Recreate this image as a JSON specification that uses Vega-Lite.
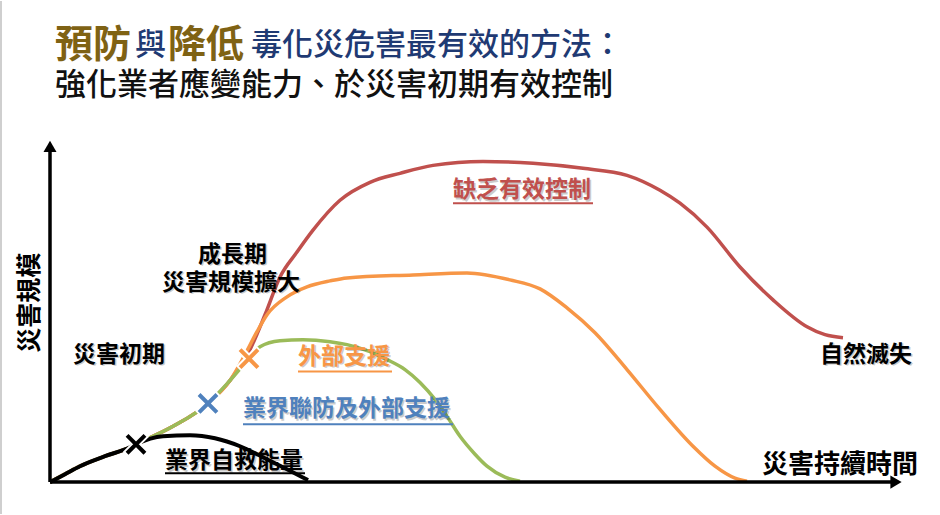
{
  "$schema": "https://vega.github.io/schema/vega-lite/v6.json",
  "width": 940,
  "height": 515,
  "autosize": {"type": "fit", "contains": "padding"},
  "padding": 0,
  "background": "white",
  "config": {"view": {"stroke": null}, "font": "Noto Sans CJK TC", "text": {"font": "Noto Sans CJK TC"}},
  "datasets": {
    "curves": [
      {"curve": "red", "t": 0, "v": 0}, {"curve": "red", "t": 15, "v": 8}, {"curve": "red", "t": 30, "v": 16}, {"curve": "red", "t": 55, "v": 26}, {"curve": "red", "t": 80, "v": 35}, {"curve": "red", "t": 86, "v": 38}, {"curve": "red", "t": 123, "v": 56}, {"curve": "red", "t": 158, "v": 79}, {"curve": "red", "t": 180, "v": 102}, {"curve": "red", "t": 200, "v": 133}, {"curve": "red", "t": 215, "v": 168}, {"curve": "red", "t": 230, "v": 206}, {"curve": "red", "t": 247, "v": 231}, {"curve": "red", "t": 263, "v": 253}, {"curve": "red", "t": 290, "v": 283}, {"curve": "red", "t": 320, "v": 301}, {"curve": "red", "t": 350, "v": 310}, {"curve": "red", "t": 383, "v": 318}, {"curve": "red", "t": 433, "v": 322}, {"curve": "red", "t": 483, "v": 320}, {"curve": "red", "t": 533, "v": 315}, {"curve": "red", "t": 577, "v": 308}, {"curve": "red", "t": 610, "v": 293}, {"curve": "red", "t": 630, "v": 280}, {"curve": "red", "t": 657, "v": 256}, {"curve": "red", "t": 690, "v": 216}, {"curve": "red", "t": 723, "v": 183}, {"curve": "red", "t": 757, "v": 156}, {"curve": "red", "t": 775, "v": 148}, {"curve": "red", "t": 793, "v": 145},
      {"curve": "orange", "t": 0, "v": 0}, {"curve": "orange", "t": 15, "v": 8}, {"curve": "orange", "t": 30, "v": 16}, {"curve": "orange", "t": 55, "v": 26}, {"curve": "orange", "t": 80, "v": 35}, {"curve": "orange", "t": 86, "v": 38}, {"curve": "orange", "t": 123, "v": 56}, {"curve": "orange", "t": 158, "v": 79}, {"curve": "orange", "t": 180, "v": 102}, {"curve": "orange", "t": 195, "v": 128}, {"curve": "orange", "t": 207, "v": 151}, {"curve": "orange", "t": 217, "v": 168}, {"curve": "orange", "t": 237, "v": 186}, {"curve": "orange", "t": 257, "v": 196}, {"curve": "orange", "t": 280, "v": 202}, {"curve": "orange", "t": 297, "v": 205}, {"curve": "orange", "t": 363, "v": 208}, {"curve": "orange", "t": 417, "v": 210}, {"curve": "orange", "t": 460, "v": 203}, {"curve": "orange", "t": 490, "v": 194}, {"curve": "orange", "t": 517, "v": 175}, {"curve": "orange", "t": 545, "v": 150}, {"curve": "orange", "t": 577, "v": 113}, {"curve": "orange", "t": 610, "v": 73}, {"curve": "orange", "t": 643, "v": 36}, {"curve": "orange", "t": 665, "v": 16}, {"curve": "orange", "t": 685, "v": 4}, {"curve": "orange", "t": 697, "v": 1},
      {"curve": "green", "t": 0, "v": 0}, {"curve": "green", "t": 15, "v": 8}, {"curve": "green", "t": 30, "v": 16}, {"curve": "green", "t": 55, "v": 26}, {"curve": "green", "t": 80, "v": 35}, {"curve": "green", "t": 86, "v": 38}, {"curve": "green", "t": 123, "v": 56}, {"curve": "green", "t": 158, "v": 79}, {"curve": "green", "t": 180, "v": 102}, {"curve": "green", "t": 199, "v": 124}, {"curve": "green", "t": 210, "v": 136}, {"curve": "green", "t": 230, "v": 142}, {"curve": "green", "t": 253, "v": 143}, {"curve": "green", "t": 280, "v": 141}, {"curve": "green", "t": 297, "v": 138}, {"curve": "green", "t": 320, "v": 131}, {"curve": "green", "t": 337, "v": 123}, {"curve": "green", "t": 355, "v": 113}, {"curve": "green", "t": 370, "v": 100}, {"curve": "green", "t": 385, "v": 83}, {"curve": "green", "t": 397, "v": 66}, {"curve": "green", "t": 410, "v": 46}, {"curve": "green", "t": 425, "v": 28}, {"curve": "green", "t": 437, "v": 16}, {"curve": "green", "t": 455, "v": 5}, {"curve": "green", "t": 470, "v": 1},
      {"curve": "black", "t": 0, "v": 0}, {"curve": "black", "t": 15, "v": 8}, {"curve": "black", "t": 30, "v": 16}, {"curve": "black", "t": 55, "v": 26}, {"curve": "black", "t": 80, "v": 35}, {"curve": "black", "t": 86, "v": 38}, {"curve": "black", "t": 113, "v": 46}, {"curve": "black", "t": 140, "v": 47}, {"curve": "black", "t": 165, "v": 44}, {"curve": "black", "t": 190, "v": 36}, {"curve": "black", "t": 213, "v": 25}, {"curve": "black", "t": 235, "v": 14}, {"curve": "black", "t": 258, "v": 2}
    ],
    "axes": [
      {"axis": "y", "t": 0, "v": 0, "t2": 0, "v2": 334},
      {"axis": "x", "t": 0, "v": 0, "t2": 844, "v2": 0}
    ],
    "arrows": [
      {"axis": "y", "t": 0, "v": 337},
      {"axis": "x", "t": 846, "v": 0}
    ],
    "border": [{"t": -49, "v": -32, "v2": 483}],
    "markers": [
      {"who": "自救", "t": 86, "v": 38},
      {"who": "聯防", "t": 158, "v": 79},
      {"who": "外部", "t": 199, "v": 124}
    ],
    "labels": [
      {"text": "災害初期", "t": 23, "v": 121, "kind": "plain"},
      {"text": "成長期", "t": 148, "v": 221, "kind": "plain"},
      {"text": "災害規模擴大", "t": 112, "v": 193, "kind": "plain"},
      {"text": "自然滅失", "t": 770, "v": 121, "kind": "plain"},
      {"text": "業界自救能量", "t": 115, "v": 14, "kind": "自救"},
      {"text": "業界聯防及外部支援", "t": 193, "v": 66, "kind": "聯防"},
      {"text": "外部支援", "t": 248, "v": 119, "kind": "外部"},
      {"text": "缺乏有效控制", "t": 403, "v": 286, "kind": "缺乏"}
    ],
    "underlines": [
      {"kind": "自救", "t": 115, "t2": 255, "v": 9},
      {"kind": "聯防", "t": 193, "t2": 403, "v": 58},
      {"kind": "外部", "t": 248, "t2": 342, "v": 111},
      {"kind": "缺乏", "t": 403, "t2": 543, "v": 280}
    ],
    "axisTitles": [
      {"text": "災害持續時間", "t": 712, "v": 9, "axis": "x"},
      {"text": "災害規模", "t": -20, "v": 180, "axis": "y"}
    ],
    "title": [
      {"text": "預防", "t": 5, "v": 427, "part": "gold"},
      {"text": "與", "t": 85, "v": 428.5, "part": "navy"},
      {"text": "降低", "t": 118, "v": 427, "part": "gold"},
      {"text": "毒化災危害最有效的方法：", "t": 201, "v": 428.5, "part": "navy"},
      {"text": "強化業者應變能力、於災害初期有效控制", "t": 5, "v": 388.5, "part": "sub"}
    ]
  },
  "encoding": {
    "x": {"field": "t", "type": "quantitative", "scale": {"domain": [-50, 890], "nice": false, "zero": false}, "axis": null},
    "y": {"field": "v", "type": "quantitative", "scale": {"domain": [-32, 483], "nice": false, "zero": false}, "axis": null}
  },
  "layer": [
    {
      "data": {"name": "border"},
      "mark": {"type": "rule", "color": "#cfcfcf", "strokeWidth": 2},
      "encoding": {"y2": {"field": "v2"}}
    },
    {
      "data": {"name": "title"},
      "transform": [{"filter": "datum.part === 'gold'"}],
      "mark": {"type": "text", "align": "left", "baseline": "alphabetic", "fontSize": 38, "fontWeight": "bold", "color": "#7F6214"},
      "encoding": {"text": {"field": "text"}}
    },
    {
      "data": {"name": "title"},
      "transform": [{"filter": "datum.part === 'navy'"}],
      "mark": {"type": "text", "align": "left", "baseline": "alphabetic", "fontSize": 31, "fontWeight": 500, "color": "#1F3A73"},
      "encoding": {"text": {"field": "text"}}
    },
    {
      "data": {"name": "title"},
      "transform": [{"filter": "datum.part === 'sub'"}],
      "mark": {"type": "text", "align": "left", "baseline": "alphabetic", "fontSize": 31, "fontWeight": 500, "color": "#111111"},
      "encoding": {"text": {"field": "text"}}
    },
    {
      "data": {"name": "curves"},
      "transform": [{"filter": "datum.curve === 'red'"}],
      "mark": {"type": "line", "interpolate": "monotone", "color": "#C0504D", "strokeWidth": 3.5},
      "encoding": {}
    },
    {
      "data": {"name": "curves"},
      "transform": [{"filter": "datum.curve === 'orange'"}],
      "mark": {"type": "line", "interpolate": "monotone", "color": "#F79646", "strokeWidth": 3.5},
      "encoding": {}
    },
    {
      "data": {"name": "curves"},
      "transform": [{"filter": "datum.curve === 'green'"}],
      "mark": {"type": "line", "interpolate": "monotone", "color": "#9BBB59", "strokeWidth": 3.5},
      "encoding": {}
    },
    {
      "data": {"name": "curves"},
      "transform": [{"filter": "datum.curve === 'black'"}],
      "mark": {"type": "line", "interpolate": "monotone", "color": "#000000", "strokeWidth": 4},
      "encoding": {}
    },
    {
      "data": {"name": "axes"},
      "mark": {"type": "rule", "color": "#000000", "strokeWidth": 3.5},
      "encoding": {"x2": {"field": "t2"}, "y2": {"field": "v2"}}
    },
    {
      "data": {"name": "arrows"},
      "transform": [{"filter": "datum.axis === 'y'"}],
      "mark": {"type": "point", "shape": "triangle-up", "filled": true, "color": "#000000", "size": 170, "opacity": 1},
      "encoding": {}
    },
    {
      "data": {"name": "arrows"},
      "transform": [{"filter": "datum.axis === 'x'"}],
      "mark": {"type": "point", "shape": "triangle-right", "filled": true, "color": "#000000", "size": 170, "opacity": 1},
      "encoding": {}
    },
    {
      "data": {"name": "markers"},
      "mark": {"type": "point", "shape": "M-1,-1L1,1M1,-1L-1,1", "filled": false, "color": "#ffffff", "strokeWidth": 8, "strokeCap": "butt", "size": 420, "opacity": 1},
      "encoding": {}
    },
    {
      "data": {"name": "markers"},
      "mark": {"type": "point", "shape": "M-1,-1L1,1M1,-1L-1,1", "filled": false, "strokeWidth": 4, "size": 320, "opacity": 1},
      "encoding": {
        "color": {"field": "who", "type": "nominal", "scale": {"domain": ["自救", "聯防", "外部"], "range": ["#000000", "#4F81BD", "#F79646"]}, "legend": null}
      }
    },
    {
      "data": {"name": "underlines"},
      "mark": {"type": "rule", "strokeWidth": 2},
      "encoding": {
        "x2": {"field": "t2"},
        "color": {"field": "kind", "type": "nominal", "scale": {"domain": ["plain", "自救", "聯防", "外部", "缺乏"], "range": ["#000000", "#000000", "#4F81BD", "#F79646", "#C0504D"]}, "legend": null}
      }
    },
    {
      "data": {"name": "labels"},
      "mark": {"type": "text", "align": "left", "baseline": "alphabetic", "fontSize": 23, "fontWeight": "bold", "dx": 1.5, "dy": 1.5, "color": "#000000", "opacity": 0.2},
      "encoding": {"text": {"field": "text"}}
    },
    {
      "data": {"name": "labels"},
      "mark": {"type": "text", "align": "left", "baseline": "alphabetic", "fontSize": 23, "fontWeight": "bold"},
      "encoding": {
        "text": {"field": "text"},
        "color": {"field": "kind", "type": "nominal", "scale": {"domain": ["plain", "自救", "聯防", "外部", "缺乏"], "range": ["#000000", "#000000", "#4F81BD", "#F79646", "#C0504D"]}, "legend": null}
      }
    },
    {
      "data": {"name": "axisTitles"},
      "transform": [{"filter": "datum.axis === 'x'"}],
      "mark": {"type": "text", "align": "left", "baseline": "alphabetic", "fontSize": 26, "fontWeight": "bold", "color": "#000000"},
      "encoding": {"text": {"field": "text"}}
    },
    {
      "data": {"name": "axisTitles"},
      "transform": [{"filter": "datum.axis === 'y'"}],
      "mark": {"type": "text", "align": "center", "baseline": "middle", "angle": 270, "fontSize": 25, "fontWeight": "bold", "color": "#000000"},
      "encoding": {"text": {"field": "text"}}
    }
  ],
  "resolve": {"scale": {"color": "independent"}}
}
